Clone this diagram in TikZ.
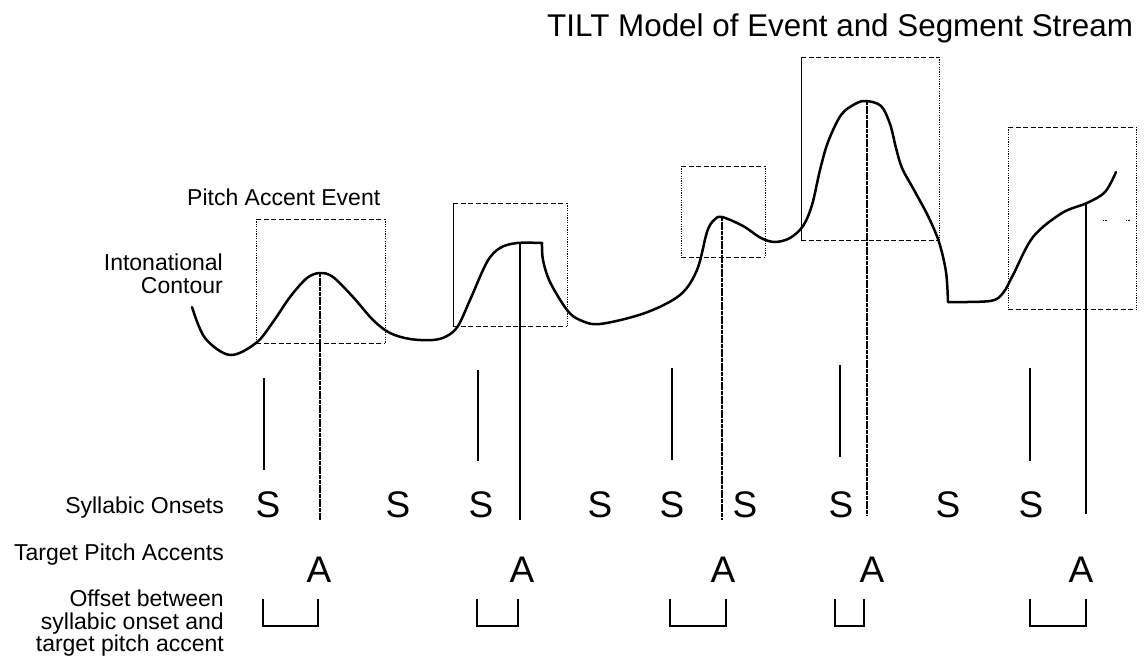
\documentclass[tikz,border=0pt]{standalone}
\usepackage{fontspec}
\setmainfont{Liberation Sans}
\newcommand\paevbox[5]{%
  \draw[hdash] (#1,#2) -- (#3,#2);
  \draw[hdash] (#1,#4) -- (#3,#4);
  \draw[#5] (#1,#2) -- (#1,#4);
  \draw[vdot] (#3,#2) -- (#3,#4);}
\begin{document}
\begin{tikzpicture}[x=1pt,y=-1pt,
  contour/.style={line width=2.5pt, line join=round, line cap=round},
  hdash/.style={line width=0.9pt, dash pattern=on 5pt off 2.5pt},
  vdot/.style={line width=0.9pt, dash pattern=on 1.2pt off 1.2pt},
  vsolid/.style={line width=0.9pt},
  aline/.style={line width=1.4pt},
  adot/.style={line width=1.3pt, dash pattern=on 4pt off 0.7pt},
  tickline/.style={line width=1.8pt},
  brk/.style={line width=1.1pt},
  lbl/.style={font=\fontsize{23}{25}\selectfont, inner sep=0pt},
  big/.style={font=\fontsize{37}{40}\selectfont, inner sep=0pt}]
\useasboundingbox (0,0) rectangle (1148,658);

% title
\node[inner sep=0pt, anchor=base west, font=\fontsize{31.4}{33}\selectfont] (title) at (547,37) {TILT Model of Event and Segment Stream};

% labels
\node[lbl, anchor=base west] (pae) at (187,205) {Pitch Accent Event};
\node[lbl, anchor=base east] (into1) at (223,270) {Intonational};
\node[lbl, anchor=base east] (into2) at (223,293) {Contour};
\node[lbl, anchor=base east] (so) at (224,513) {Syllabic Onsets};
\node[lbl, anchor=base east] (tpa) at (224,560) {Target Pitch Accents};
\node[lbl, anchor=base east] (off1) at (224,606) {Offset between};
\node[lbl, anchor=base east] (off2) at (224,629) {syllabic onset and};
\node[lbl, anchor=base east] (off3) at (224,651) {target pitch accent};

% event boxes
\paevbox{256}{219}{385}{343}{vdot}
\paevbox{453}{203}{567}{326}{vsolid}
\paevbox{681}{166}{765}{257}{vdot}
\paevbox{801}{57}{939}{240}{vsolid}
\paevbox{1008}{127}{1136}{309}{vdot}
\draw[vdot] (1103,220) -- (1107,220);
\draw[vdot] (1126,220) -- (1130,220);

% contour
\draw[contour] plot[smooth, tension=0.55] coordinates {(192,307) (205,338) (230,355) (256,343) (273,322) (290,297) (307,278) (320,273) (333,277) (353,297) (373,320) (390,333) (410,339) (433,340) (447,336) (458,326) (470,300) (487,262) (500,248) (517,243) (542,243)};
\draw[contour] plot[smooth, tension=0.55] coordinates {(542,243) (543,260) (550,282) (567,310) (580,320) (600,324) (645,313) (680,295) (697,270) (707,232) (714,220) (722,217) (743,226) (761,238) (775,242) (790,238) (803,226) (812,205) (820,170) (828,142) (841,115) (855,104) (866,101) (881,106) (890,124) (896,148) (902,168) (914,190) (928,216) (939,242) (946,272) (948,302)};
\draw[contour] plot[smooth, tension=0.55] coordinates {(948,302) (990,301) (1003,293) (1013,275) (1033,237) (1062,213) (1087,203) (1105,192) (1116,172)};

% target lines
\draw[adot] (320,273) -- (320,520);
\draw[aline] (520,243) -- (520,520);
\draw[adot] (722,217) -- (722,520);
\draw[adot] (867,101) -- (867,515);
\draw[aline] (1086,203) -- (1086,514);

% onset ticks
\draw[tickline] (264,378) -- (264,470);
\draw[tickline] (478,370) -- (478,461);
\draw[tickline] (672,368) -- (672,460);
\draw[tickline] (840,365) -- (840,457);
\draw[tickline] (1030,368) -- (1030,461);

% S letters
\foreach \xx/\nm in {268/s1,398/s2,481/s3,600/s4,672/s5,745/s6,841/s7,948/s8,1031/s9}
  \node[big, anchor=base] (\nm) at (\xx,517) {S};
% A letters
\foreach \xx/\nm in {319/a1,522/a2,723/a3,872/a4,1081/a5}
  \node[big, anchor=base] (\nm) at (\xx,582) {A};

% offset brackets
\foreach \xa/\xb in {263/318,477/518,670/726,835/864,1030/1086}
  \draw[brk] (\xa,599) -- (\xa,626) -- (\xb,626) -- (\xb,599);
\end{tikzpicture}
\end{document}
